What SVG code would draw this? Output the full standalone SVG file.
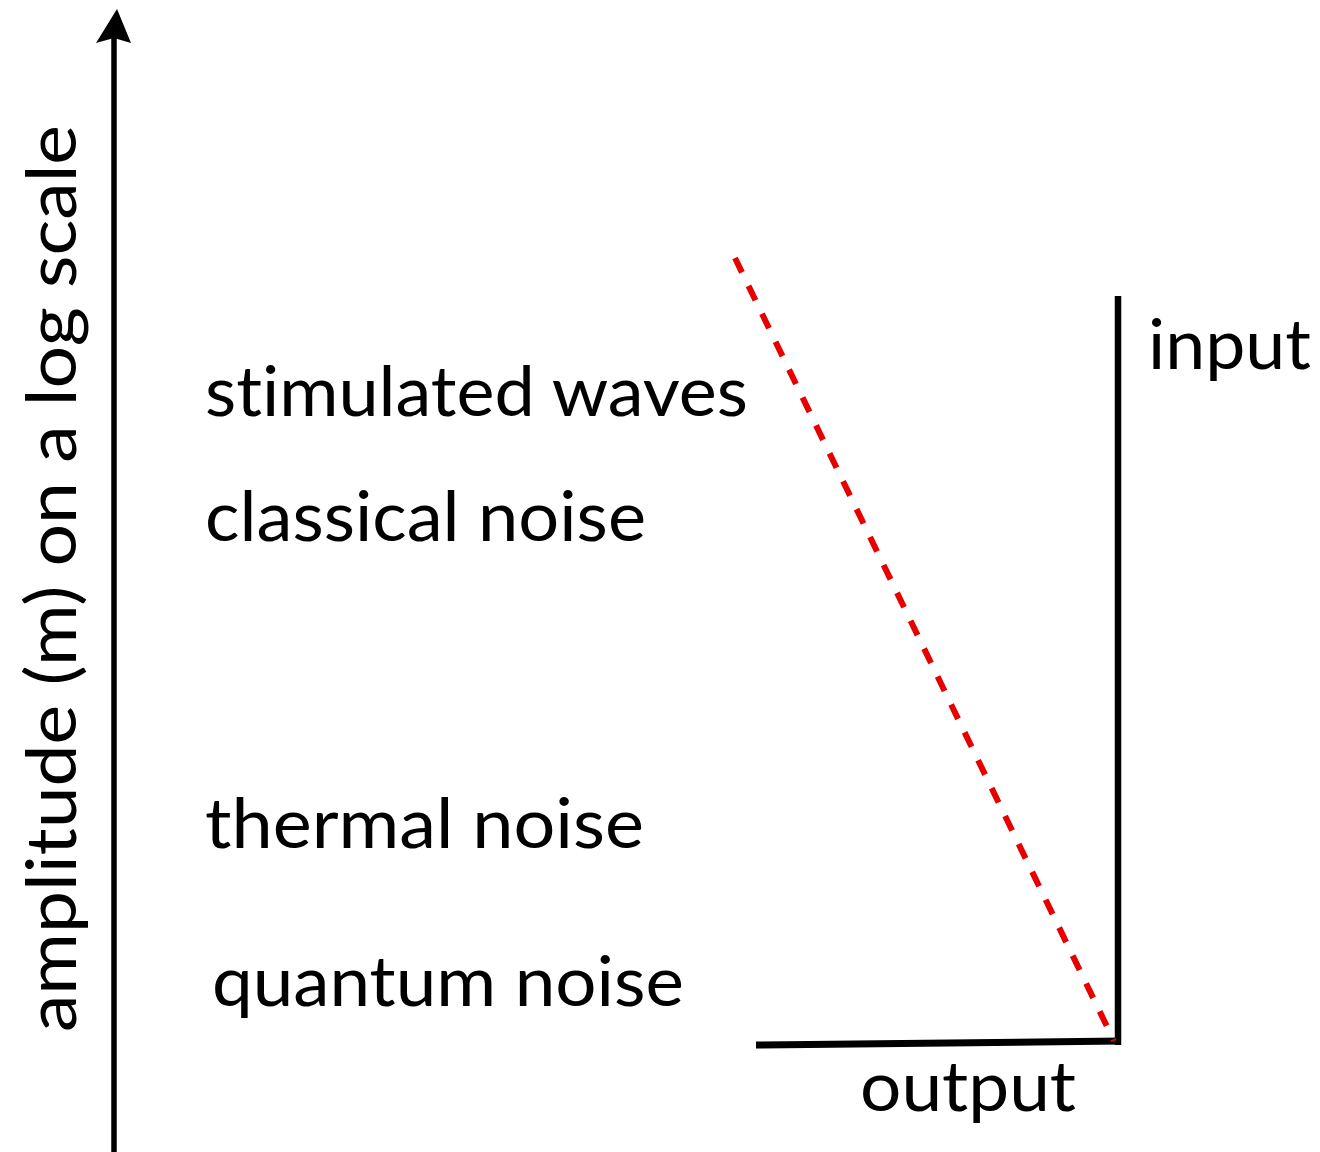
<svg xmlns="http://www.w3.org/2000/svg" width="1320" height="1152" viewBox="0 0 1320 1152">
<style>
.lbl{font-family:"Lato","Open Sans","Liberation Sans",sans-serif;font-size:70px;fill:#000;font-variant-ligatures:none;font-feature-settings:"liga" 0}
.blk{stroke:#000;fill:none}
</style>
<rect width="1320" height="1152" fill="#fff"/>
<g id="axis">
<line class="blk" x1="114" y1="38" x2="114" y2="1152" stroke-width="5.5"/>
<polygon points="117,9 131,43 114,38 96,43" fill="#000"/>
</g>
<g id="axis-label">
<text class="lbl" transform="translate(76,1032) rotate(-90)" textLength="907" lengthAdjust="spacingAndGlyphs">amplitude (m) on a log scale</text>
</g>
<g id="stimulated-waves"><text class="lbl" x="205" y="416" textLength="543" lengthAdjust="spacingAndGlyphs">stimulated waves</text></g>
<g id="classical-noise"><text class="lbl" x="205" y="541" textLength="441" lengthAdjust="spacingAndGlyphs">classical noise</text></g>
<g id="thermal-noise"><text class="lbl" x="205" y="848" textLength="439" lengthAdjust="spacingAndGlyphs">thermal noise</text></g>
<g id="quantum-noise"><text class="lbl" x="212" y="1006" textLength="472" lengthAdjust="spacingAndGlyphs">quantum noise</text></g>
<g id="input"><text class="lbl" x="1148" y="369" textLength="163" lengthAdjust="spacingAndGlyphs">input</text></g>
<g id="output"><text class="lbl" x="860" y="1111" textLength="216" lengthAdjust="spacingAndGlyphs">output</text></g>
<g id="connectors">
<line class="blk" x1="1118" y1="296" x2="1118" y2="1045" stroke-width="6.5"/>
<line class="blk" x1="756" y1="1045" x2="1121" y2="1041" stroke-width="7"/>
<line x1="735" y1="258" x2="1114" y2="1041" stroke="#e80000" stroke-width="6" stroke-dasharray="16 15"/>
</g>
</svg>
